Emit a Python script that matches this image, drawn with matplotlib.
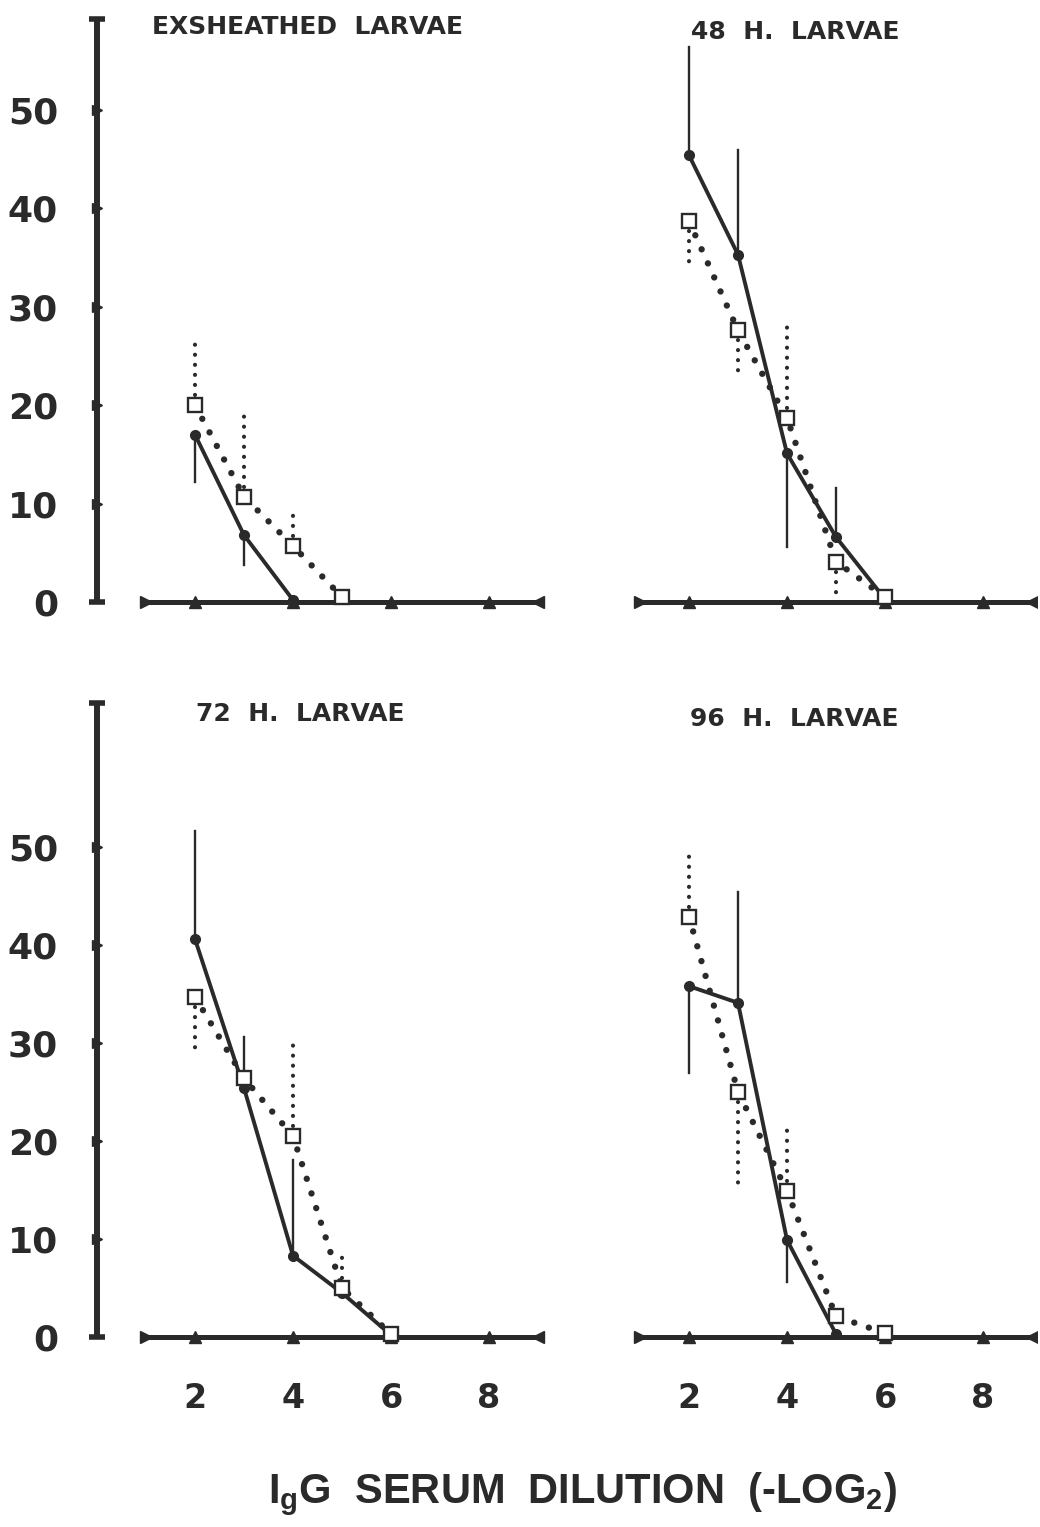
import numpy as np
import matplotlib
matplotlib.use("Agg")
import matplotlib.pyplot as plt

plt.rcParams['font.family'] = ['DejaVu Sans']
plt.rcParams['mathtext.fontset'] = 'custom'
plt.rcParams['mathtext.bf'] = 'Liberation Sans:bold'
plt.rcParams['mathtext.rm'] = 'Liberation Sans:bold'

ink = '#2a2a2a'

# ---- data (x = -log2 dilution) ----
ex_x_solid = [2, 3, 4]
ex_y_solid = [17.0, 6.8, 0.2]
ex_e_solid = [12.2, 3.8, np.nan]
ex_x_dot = [2, 3, 4, 5]
ex_y_dot = [20.0, 10.7, 5.7, 0.5]
ex_e_dot = [26.3, 19.7, 9.6, np.nan]

h48_x_solid = [2, 3, 4, 5, 6]
h48_y_solid = [45.4, 35.3, 15.1, 6.6, 0.3]
h48_e_solid = [56.4, 45.9, 5.6, 11.6, np.nan]
h48_x_dot = [2, 3, 4, 5, 6]
h48_y_dot = [38.7, 27.6, 18.7, 4.1, 0.5]
h48_e_dot = [33.7, 22.8, 28.4, 0.2, np.nan]

h72_x_solid = [2, 3, 4, 5, 6]
h72_y_solid = [40.6, 25.4, 8.3, 4.5, 0.2]
h72_e_solid = [51.6, 30.6, 18.1, np.nan, np.nan]
h72_x_dot = [2, 3, 4, 5, 6]
h72_y_dot = [34.7, 26.4, 20.5, 5.0, 0.3]
h72_e_dot = [29.0, np.nan, 30.5, 8.4, np.nan]

h96_x_solid = [2, 3, 4, 5]
h96_y_solid = [35.8, 34.1, 9.9, 0.3]
h96_e_solid = [26.9, 45.4, 5.6, np.nan]
h96_x_dot = [2, 3, 4, 5, 6]
h96_y_dot = [42.9, 25.0, 14.9, 2.1, 0.4]
h96_e_dot = [49.4, 14.8, 21.3, np.nan, np.nan]

titles = ['EXSHEATHED  LARVAE', '48  H.  LARVAE', '72  H.  LARVAE', '96  H.  LARVAE']
x_ticks = [2, 4, 6, 8]
y_ticks = [0, 10, 20, 30, 40, 50]
x_axis_span = (1, 9)

W, H = 1040, 1527
fig = plt.figure(figsize=(W / 100, H / 100), dpi=100)
fig.patch.set_facecolor('white')


def make_ax(x0px, y0px, xlim, ylim, xs=49.0, ys=9.8):
    # place axes so that data (0,0) lands on the pixel anchor
    left = x0px + xlim[0] * xs
    right = x0px + xlim[1] * xs
    top = y0px - ylim[1] * ys
    bottom = y0px - ylim[0] * ys
    ax = fig.add_axes([left / W, 1 - bottom / H, (right - left) / W, (bottom - top) / H])
    ax.set_xlim(xlim)
    ax.set_ylim(ylim)
    for s in ax.spines.values():
        s.set_visible(False)
    ax.tick_params(length=0)
    ax.set_xticks([])
    ax.set_yticks([])
    ax.patch.set_alpha(0)
    return ax


def draw_frame(ax, yaxis_top=None, xlabels=False):
    ax.plot(x_axis_span, [0, 0], lw=3.6, color=ink, solid_capstyle='butt', zorder=2)
    ax.plot([x_axis_span[0]], [0], marker='>', ms=8, color=ink, zorder=2)
    ax.plot([x_axis_span[1]], [0], marker='<', ms=8, color=ink, zorder=2)
    ax.plot(x_ticks, [0] * len(x_ticks), ls='none', marker='^', ms=8, color=ink, zorder=2)
    if yaxis_top is not None:
        ax.plot([0, 0], [0, yaxis_top], lw=4.3, color=ink, solid_capstyle='butt', clip_on=False)
        ax.plot([0, 0], [0, yaxis_top], ls='none', marker='_', ms=12, mew=4, color=ink, clip_on=False)
        ax.plot([0] * 5, y_ticks[1:], ls='none', marker='>', ms=7, color=ink)
        ax.set_yticks(y_ticks)
        ax.set_yticklabels([str(v) for v in y_ticks], fontsize=26, fontweight='bold', color=ink)
        ax.tick_params(axis='y', pad=14)
    if xlabels:
        ax.set_xticks(x_ticks)
        ax.set_xticklabels([str(v) for v in x_ticks], fontsize=24, fontweight='bold', color=ink)
        ax.tick_params(axis='x', pad=4)


def draw_series(ax, xs, ys, es, xd, yd, ed):
    # solid series with filled circles
    for x, y, e in zip(xs, ys, es):
        if not np.isnan(e):
            ax.plot([x, x], [y, e], lw=1.7, color=ink, zorder=3)
    ax.plot(xs, ys, '-', lw=2.8, color=ink, marker='o', ms=7, zorder=4)
    # dotted series with open squares
    for x, y, e in zip(xd, yd, ed):
        if not np.isnan(e):
            ax.plot([x, x], [y, e], lw=3.0, color=ink, ls=(0, (0.01, 2.4)),
                    dash_capstyle='round', zorder=3)
    ax.plot(xd, yd, lw=4.6, color=ink, ls=(0, (0.01, 2.4)), dash_capstyle='round', zorder=3)
    ax.plot(xd, yd, ls='none', marker='s', ms=10, mfc='white', mec=ink, mew=1.7, zorder=5)


ax1 = make_ax(97, 602, (-0.4, 9.4), (-3.5, 61.5), ys=9.84)
ax2 = make_ax(591, 602, (0.5, 9.1), (-3.5, 61.5), ys=9.84)
ax3 = make_ax(97, 1337, (-0.4, 9.4), (-4.0, 67))
ax4 = make_ax(591, 1337, (0.5, 9.1), (-4.0, 67))

draw_frame(ax1, yaxis_top=59.2)
draw_frame(ax2)
draw_frame(ax3, yaxis_top=64.7, xlabels=True)
draw_frame(ax4, xlabels=True)

draw_series(ax1, ex_x_solid, ex_y_solid, ex_e_solid, ex_x_dot, ex_y_dot, ex_e_dot)
draw_series(ax2, h48_x_solid, h48_y_solid, h48_e_solid, h48_x_dot, h48_y_dot, h48_e_dot)
draw_series(ax3, h72_x_solid, h72_y_solid, h72_e_solid, h72_x_dot, h72_y_dot, h72_e_dot)
draw_series(ax4, h96_x_solid, h96_y_solid, h96_e_solid, h96_x_dot, h96_y_dot, h96_e_dot)

ax1.text(1.12, 58.4, titles[0], fontsize=18, fontweight='bold', color=ink, va='center', ha='left')
ax2.text(2.05, 57.9, titles[1], fontsize=18, fontweight='bold', color=ink, va='center', ha='left')
ax3.text(2.02, 63.6, titles[2], fontsize=18, fontweight='bold', color=ink, va='center', ha='left')
ax4.text(2.03, 63.1, titles[3], fontsize=18, fontweight='bold', color=ink, va='center', ha='left')

fig.text(582 / W, 1 - 1494 / H, r'I$\mathbf{_g}$G  SERUM  DILUTION  (-LOG$\mathbf{_2}$)',
         fontsize=30, fontweight='bold', color=ink, ha='center', va='center',
         family=['Liberation Sans', 'DejaVu Sans'])

fig.savefig('out.png', dpi=100, facecolor='white')
